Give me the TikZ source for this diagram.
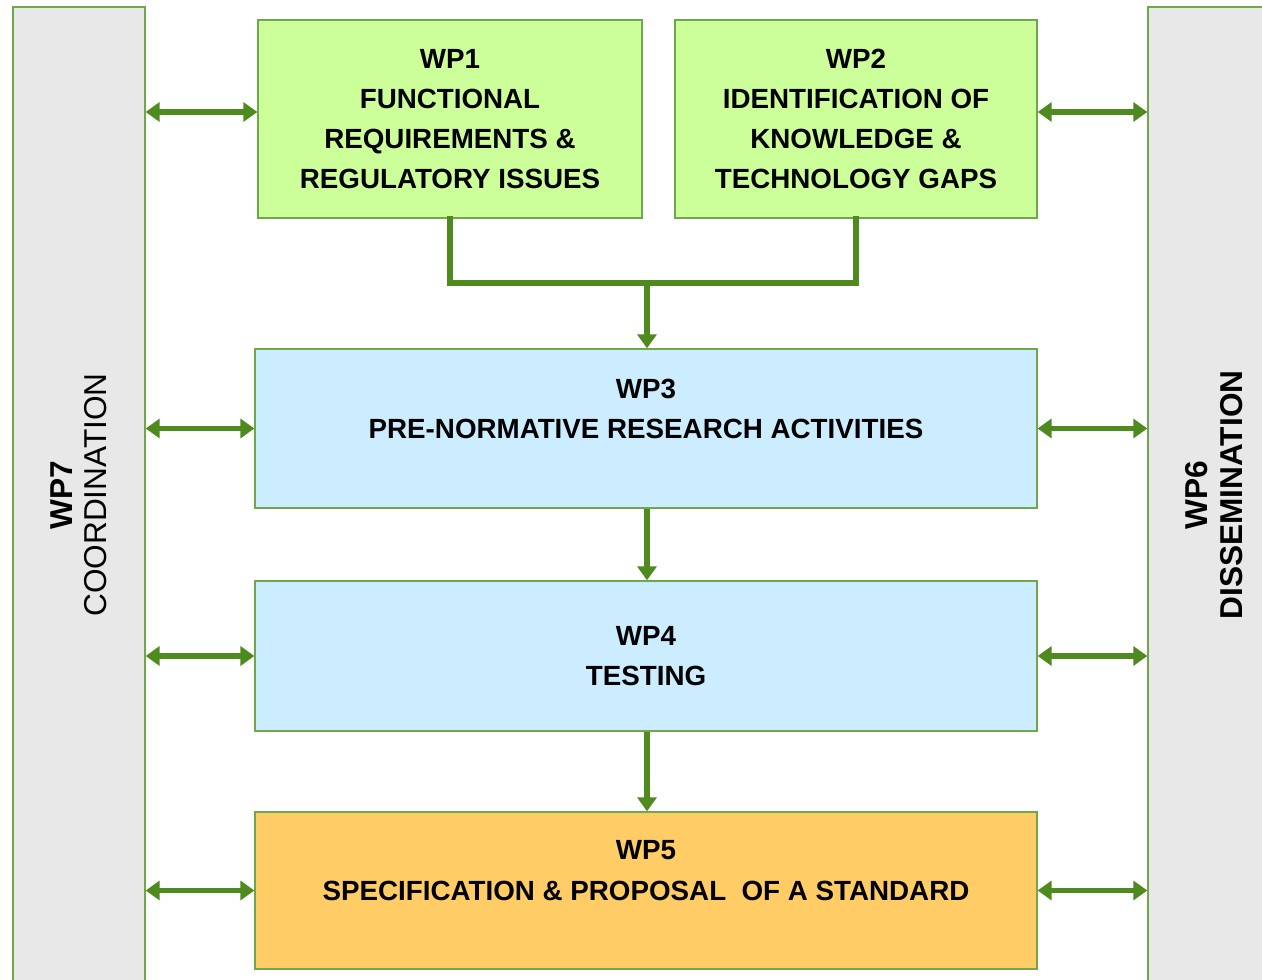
\documentclass[tikz,border=0pt]{standalone}
\usepackage{fontspec}
\setmainfont{Liberation Sans}
\usetikzlibrary{arrows.meta,positioning,calc}

\definecolor{wpgreen}{HTML}{CCFF99}
\definecolor{wpblue}{HTML}{CCECFF}
\definecolor{wporange}{HTML}{FFCC66}
\definecolor{bargray}{HTML}{E8E8E8}
\definecolor{boxline}{HTML}{6FA84A}
\definecolor{linkgreen}{HTML}{4E8A1E}

\begin{document}
\begin{tikzpicture}[x=0.02cm, y=-0.02cm,
    >={Triangle[length=0.28cm,width=0.38cm]},
    wpbox/.style={draw=boxline, line width=0.8pt, inner sep=0pt, align=center,
        font=\fontsize{15.8}{22.8}\selectfont\bfseries},
    sidebar/.style={draw=boxline, fill=bargray, line width=0.8pt, inner sep=0pt,
        rotate=90, align=center, font=\fontsize{18}{19.5}\selectfont},
    link/.style={draw=linkgreen, line width=0.11cm}]
    \useasboundingbox (0,0) rectangle (1262,980);
    \clip (0,0) rectangle (1262,980);

    % side bars
    \node[sidebar, minimum width=19.52cm, minimum height=2.64cm] (wp7) at (79,495)
        {\textbf{WP7}\\COORDINATION};
    \node[sidebar, minimum width=19.52cm, minimum height=2.64cm] (wp6) at (1214,495)
        {\textbf{WP6}\\\textbf{DISSEMINATION}};

    % work packages
    \node[wpbox, fill=wpgreen, minimum width=7.68cm, minimum height=3.96cm] (wp1) at (450,119)
        {WP1\\FUNCTIONAL\\REQUIREMENTS \&\\REGULATORY ISSUES};
    \node[wpbox, fill=wpgreen, minimum width=7.24cm, minimum height=3.96cm] (wp2) at (856,119)
        {WP2\\IDENTIFICATION OF\\KNOWLEDGE \&\\TECHNOLOGY GAPS};
    \node[wpbox, fill=wpblue, minimum width=15.64cm, minimum height=3.18cm] (wp3) at (646,428.5)
        {WP3\\PRE-NORMATIVE RESEARCH ACTIVITIES\\\mbox{}};
    \node[wpbox, fill=wpblue, minimum width=15.64cm, minimum height=3cm] (wp4) at (646,656)
        {WP4\\TESTING};
    \node[wpbox, fill=wporange, minimum width=15.64cm, minimum height=3.14cm] (wp5) at (646,890.5)
        {WP5\\SPECIFICATION \& PROPOSAL~ OF A STANDARD\\\mbox{}};

    % flow
    \coordinate (join) at (647,283);
    \draw[link, line cap=rect] (wp1.south) |- (join) -| (wp2.south);
    \draw[link, ->] (join) -- (join |- wp3.north);
    \draw[link, ->] (wp3.south -| join) -- (wp4.north -| join);
    \draw[link, ->] (wp4.south -| join) -- (wp5.north -| join);

    % links to coordination and dissemination
    \coordinate (r1) at ([yshift=1.4mm]wp1.west);
    \coordinate (r2) at ([yshift=1.4mm]wp2.east);
    \draw[link, <->] (wp7.south |- r1) -- (r1);
    \draw[link, <->] (r2) -- (wp6.north |- r2);
    \foreach \wp in {wp3,wp4,wp5}{
        \draw[link, <->] (wp7.south |- \wp.west) -- (\wp.west);
        \draw[link, <->] (\wp.east) -- (wp6.north |- \wp.east);
    }
\end{tikzpicture}
\end{document}
